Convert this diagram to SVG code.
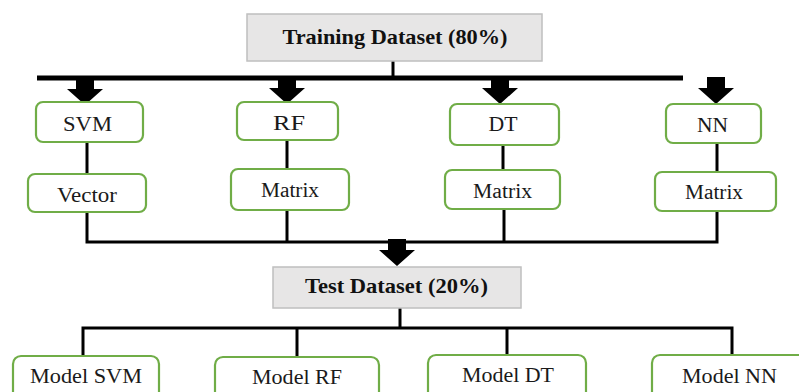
<svg xmlns="http://www.w3.org/2000/svg" xmlns:xlink="http://www.w3.org/1999/xlink" width="799" height="392" viewBox="0 0 799 392">
<style>
.g{fill:#e7e6e6;stroke:#bfbfbf;stroke-width:1.5}
.n{fill:#ffffff;stroke:#70ad47;stroke-width:2.2}
text{font-size:20px;fill:#1a1a1a;text-anchor:middle}
.b{font-weight:bold;font-size:21px;fill:#111}
.m{font-size:21px}
.c{fill:none;stroke:#000;stroke-width:3}
</style>
<defs>
<path id="arr" d="M-9,-27 H9 V-16 H18 L0,0 L-18,-16 H-9 Z" fill="#000"/>
<filter id="sh" x="-5%" y="-200%" width="110%" height="500%"><feGaussianBlur stdDeviation="2"/></filter>
</defs>
<rect width="799" height="392" fill="#fff"/>
<g id="connectors">
<line x1="39" y1="81" x2="685" y2="81" stroke="#999" stroke-width="5" filter="url(#sh)"/>
<line x1="37" y1="78" x2="683" y2="78" stroke="#000" stroke-width="5"/>
<line class="c" x1="393" y1="61" x2="393" y2="78"/>
<line class="c" x1="87" y1="142" x2="87" y2="174"/>
<line class="c" x1="287" y1="140" x2="287" y2="169"/>
<line class="c" x1="503" y1="145" x2="503" y2="170"/>
<line class="c" x1="717" y1="143" x2="717" y2="172"/>
<polyline class="c" points="87,212 87,242 717,242 717,211"/>
<line class="c" x1="287" y1="210" x2="287" y2="242"/>
<line class="c" x1="504" y1="209" x2="504" y2="242"/>
<line class="c" x1="400" y1="308" x2="400" y2="328"/>
<polyline class="c" points="83,356 83,328 732,328 732,355"/>
<line class="c" x1="297" y1="328" x2="297" y2="357"/>
<line class="c" x1="507" y1="328" x2="507" y2="355"/>
<use xlink:href="#arr" x="85" y="105"/>
<use xlink:href="#arr" x="287" y="104"/>
<use xlink:href="#arr" x="500" y="104"/>
<use xlink:href="#arr" x="716" y="104"/>
<use xlink:href="#arr" x="397" y="266"/>
</g>
<g font-family="Liberation Serif, DejaVu Serif, serif">
<g id="training"><rect class="g" x="247" y="14" width="295" height="47"/><text class="b" x="395" y="44" textLength="225" lengthAdjust="spacingAndGlyphs">Training Dataset (80%)</text></g>
<g id="svm"><rect class="n" x="36" y="102" width="107" height="40" rx="7"/><text x="87.5" y="131" textLength="49" lengthAdjust="spacingAndGlyphs">SVM</text></g>
<g id="rf"><rect class="n" x="237" y="102" width="101" height="38" rx="7"/><text x="289" y="130" textLength="32" lengthAdjust="spacingAndGlyphs">RF</text></g>
<g id="dt"><rect class="n" x="450" y="104" width="109" height="41" rx="7"/><text x="503" y="131" textLength="29" lengthAdjust="spacingAndGlyphs">DT</text></g>
<g id="nn"><rect class="n" x="666" y="104" width="95" height="39" rx="7"/><text x="712.5" y="132" textLength="31" lengthAdjust="spacingAndGlyphs">NN</text></g>
<g id="vector"><rect class="n" x="28" y="174" width="118" height="38" rx="7"/><text x="87" y="202" textLength="60" lengthAdjust="spacingAndGlyphs">Vector</text></g>
<g id="matrix-rf"><rect class="n" x="231" y="169" width="118" height="41" rx="7"/><text x="290" y="197" textLength="58" lengthAdjust="spacingAndGlyphs">Matrix</text></g>
<g id="matrix-dt"><rect class="n" x="445" y="170" width="115" height="39" rx="7"/><text x="502.5" y="198" textLength="59" lengthAdjust="spacingAndGlyphs">Matrix</text></g>
<g id="matrix-nn"><rect class="n" x="655" y="172" width="121" height="39" rx="7"/><text x="714" y="199" textLength="58" lengthAdjust="spacingAndGlyphs">Matrix</text></g>
<g id="test"><rect class="g" x="273" y="267" width="248" height="41"/><text class="b" x="396.5" y="293" textLength="183" lengthAdjust="spacingAndGlyphs">Test Dataset (20%)</text></g>
<g id="model-svm"><rect class="n" x="13" y="356" width="146" height="46" rx="8"/><text class="m" x="86" y="383" textLength="112" lengthAdjust="spacingAndGlyphs">Model SVM</text></g>
<g id="model-rf"><rect class="n" x="215" y="357" width="164" height="46" rx="8"/><text class="m" x="297" y="384" textLength="90" lengthAdjust="spacingAndGlyphs">Model RF</text></g>
<g id="model-dt"><rect class="n" x="428" y="355" width="158" height="46" rx="8"/><text class="m" x="508" y="382" textLength="92" lengthAdjust="spacingAndGlyphs">Model DT</text></g>
<g id="model-nn"><rect class="n" x="652" y="355" width="156" height="46" rx="8"/><text class="m" x="729.5" y="383" textLength="95" lengthAdjust="spacingAndGlyphs">Model NN</text></g>
</g>
</svg>
